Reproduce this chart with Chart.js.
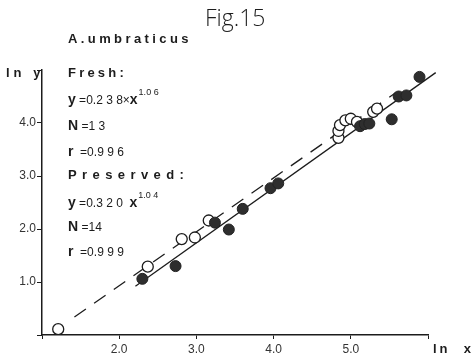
<!DOCTYPE html>
<html>
<head>
<meta charset="utf-8">
<script src="https://cdn.jsdelivr.net/npm/chart.js@4.4.1/dist/chart.umd.min.js"></script>
<style>
  html, body { margin: 0; padding: 0; background: #fff; }
</style>
</head>
<body>
<canvas id="fig15" width="472" height="360"></canvas>
<script>
// ln x / ln y
const freshX = [1.21, 2.37, 2.81, 2.98, 3.16, 4.84, 4.84, 4.86, 4.93, 5.00, 5.08, 5.29, 5.34];
const freshY = [0.11, 1.29, 1.81, 1.84, 2.16, 3.72, 3.85, 3.96, 4.05, 4.08, 4.02, 4.21, 4.27];
const presX = [2.30, 2.73, 3.24, 3.42, 3.60, 3.96, 4.06, 5.12, 5.18, 5.24, 5.53, 5.62, 5.72, 5.89];
const presY = [1.06, 1.30, 2.12, 1.99, 2.38, 2.77, 2.86, 3.94, 3.98, 3.99, 4.07, 4.50, 4.52, 4.87];

// fitted lines, end points as drawn
const freshFitX = [1.42, 5.58];
const freshFitY = [0.34, 4.57];
const presFitX = [2.21, 6.10];
const presFitY = [0.92, 4.95];

const xTicks = [2, 3, 4, 5];
const yTicks = [1, 2, 3, 4];

const pts = (xs, ys) => xs.map((x, i) => ({ x: x, y: ys[i] }));

const ink = '#1c1c1c';

// text block drawn on top of the chart
const notes = {
    id: 'notes',
    afterDraw(chart) {
        const ctx = chart.ctx;
        ctx.save();
        ctx.fillStyle = ink;
        ctx.textBaseline = 'alphabetic';
        const put = (str, x, y, font, sp) => {
            ctx.font = font;
            ctx.letterSpacing = (sp || 0) + 'px';
            ctx.fillText(str, x, y);
            return x + ctx.measureText(str).width;
        };
        const B = 'bold 13px "Liberation Sans", Arial, sans-serif';
        const BB = 'bold 14px "Liberation Sans", Arial, sans-serif';
        const R = '12px "Liberation Sans", Arial, sans-serif';
        const S = '9px "Liberation Sans", Arial, sans-serif';

        put('Fig.15', 205, 26, '300 23px "Open Sans", sans-serif', 0);
        put('A.umbraticus', 68, 43, B, 3.4);
        put('ln y', 6, 77, B, 4);
        put('Fresh:', 68, 77, B, 3.2);

        let x = put('y', 68, 104, BB, 0);
        x = put(' =0.2 3 8\u00d7', x, 104, R, 0);
        x = put('x', x, 104, BB, 0);
        put('1.0 6', x + 1, 95, S, 0);

        x = put('N', 68, 130, BB, 0);
        put(' =1 3', x, 130, R, 0);
        x = put('r', 68, 156, BB, 0);
        put('  =0.9 9 6', x, 156, R, 0);

        put('Preserved:', 68, 179, B, 5.4);

        x = put('y', 68, 207, BB, 0);
        x = put(' =0.3 2 0  ', x, 207, R, 0);
        x = put('x', x, 207, BB, 0);
        put('1.0 4', x + 1, 198, S, 0);

        x = put('N', 68, 231, BB, 0);
        put(' =14', x, 231, R, 0);
        x = put('r', 68, 256, BB, 0);
        put('  =0.9 9 9', x, 256, R, 0);

        put('ln  x', 433, 353, B, 3);
        ctx.restore();
    }
};

new Chart(document.getElementById('fig15').getContext('2d'), {
    type: 'scatter',
    data: {
        datasets: [{
            label: 'Preserved',
            data: pts(presX, presY),
            pointRadius: 5.5,
            pointBackgroundColor: '#2e2e2e',
            pointBorderColor: '#222',
            pointBorderWidth: 1
        }, {
            label: 'Fresh',
            data: pts(freshX, freshY),
            pointRadius: 5.5,
            pointBackgroundColor: '#ffffff',
            pointBorderColor: ink,
            pointBorderWidth: 1.3
        }, {
            label: 'Fresh fit',
            data: pts(freshFitX, freshFitY),
            showLine: true,
            pointRadius: 0,
            borderColor: ink,
            borderWidth: 1.3,
            borderDash: [14, 10]
        }, {
            label: 'Preserved fit',
            data: pts(presFitX, presFitY),
            showLine: true,
            pointRadius: 0,
            borderColor: ink,
            borderWidth: 1.3,
            clip: false
        }]
    },
    options: {
        responsive: false,
        animation: false,
        layout: { padding: { top: 70, right: 44, left: 0, bottom: 0 } },
        plugins: {
            legend: { display: false },
            tooltip: { enabled: false }
        },
        scales: {
            x: {
                min: 1,
                max: 6,
                afterFit: (s) => { s.height = 25; },
                afterBuildTicks: (s) => { s.ticks = [1, 2, 3, 4, 5, 6].map(v => ({ value: v })); },
                border: { color: ink, width: 1.5 },
                grid: { drawOnChartArea: false, tickLength: 4, color: ink },
                ticks: {
                    color: '#333',
                    padding: 3,
                    font: { family: '"Liberation Sans", Arial, sans-serif', size: 12 },
                    callback: (v) => xTicks.includes(v) ? v.toFixed(1) : ''
                }
            },
            y: {
                min: 0,
                max: 5,
                afterFit: (s) => { s.width = 42; },
                afterBuildTicks: (s) => { s.ticks = [0, 1, 2, 3, 4, 5].map(v => ({ value: v })); },
                border: { color: ink, width: 1.5 },
                grid: { drawOnChartArea: false, tickLength: 5, color: ink },
                ticks: {
                    color: '#333',
                    padding: 1,
                    font: { family: '"Liberation Sans", Arial, sans-serif', size: 12 },
                    callback: (v) => yTicks.includes(v) ? v.toFixed(1) : ''
                }
            }
        }
    },
    plugins: [notes]
});
</script>
</body>
</html>
